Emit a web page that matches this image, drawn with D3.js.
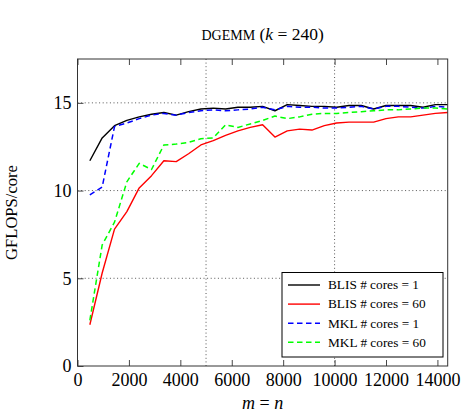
<!DOCTYPE html>
<html>
<head>
<meta charset="utf-8">
<script src="https://cdn.jsdelivr.net/npm/d3@7"></script>
<style>
  html, body { margin: 0; padding: 0; background: #fff; }
  svg { display: block; }
  text { font-family: "Liberation Serif", "DejaVu Serif", serif; fill: #000; }
</style>
</head>
<body>
<svg id="chart" width="467" height="420"></svg>
<script>
// ---- data ----
const sizes = [480, 960, 1440, 1920, 2400, 2880, 3360, 3840, 4320, 4800,
               5280, 5760, 6240, 6720, 7200, 7680, 8160, 8640, 9120, 9600,
               10080, 10560, 11040, 11520, 12000, 12480, 12960, 13440, 13920, 14400];
const blis1  = [11.7, 13.0, 13.7, 14.0, 14.2, 14.35, 14.45, 14.3, 14.5, 14.65,
                14.7, 14.65, 14.75, 14.75, 14.8, 14.55, 14.9, 14.85, 14.8, 14.8,
                14.75, 14.85, 14.85, 14.65, 14.85, 14.85, 14.85, 14.75, 14.9, 14.9];
const blis60 = [2.35, 5.3, 7.8, 8.8, 10.15, 10.85, 11.7, 11.65, 12.1, 12.6,
                12.85, 13.15, 13.4, 13.6, 13.75, 13.05, 13.4, 13.5, 13.45, 13.7,
                13.85, 13.9, 13.9, 13.9, 14.1, 14.2, 14.2, 14.3, 14.4, 14.45];
const mkl1   = [9.75, 10.2, 13.65, 13.85, 14.1, 14.3, 14.4, 14.3, 14.45, 14.55,
                14.6, 14.55, 14.6, 14.65, 14.75, 14.6, 14.8, 14.75, 14.75, 14.7,
                14.7, 14.75, 14.8, 14.65, 14.8, 14.8, 14.75, 14.7, 14.8, 14.75];
const mkl60  = [2.6, 6.9, 8.2, 10.5, 11.55, 11.2, 12.6, 12.65, 12.75, 12.95,
                13.0, 13.75, 13.6, 13.8, 14.0, 14.25, 14.1, 14.2, 14.35, 14.4,
                14.4, 14.45, 14.5, 14.55, 14.6, 14.6, 14.65, 14.7, 14.7, 14.65];
const xTicks = [0, 2000, 4000, 6000, 8000, 10000, 12000, 14000];
const yTicks = [0, 5, 10, 15];
const xGrid = [5000, 10000];
const yGrid = [5, 10, 15];
const seriesNames = ["BLIS # cores = 1", "BLIS # cores = 60", "MKL # cores = 1", "MKL # cores = 60"];
const seriesColors = ["#000000", "#ff0000", "#0000ff", "#00ff00"];
const seriesDashed = [false, false, true, true];
const seriesValues = [blis1, blis60, mkl1, mkl60];

// ---- layout ----
const L = 77.5, R = 447.7, T = 59, B = 366;
const svg = d3.select("#chart");
const x = d3.scaleLinear().domain([0, 14400]).range([L, R]);
const y = d3.scaleLinear().domain([0, 17.5]).range([B, T]);

// grid
const grid = svg.append("g").attr("stroke", "#444").attr("stroke-width", 0.9)
  .attr("stroke-dasharray", "1,2.6");
grid.selectAll("line.h").data(yGrid).join("line").attr("class", "h")
  .attr("x1", L).attr("x2", R).attr("y1", d => y(d)).attr("y2", d => y(d));
grid.selectAll("line.v").data(xGrid).join("line").attr("class", "v")
  .attr("y1", T).attr("y2", B).attr("x1", d => x(d)).attr("x2", d => x(d));

// axes
const fs = 18;
const xAxis = svg.append("g").attr("transform", `translate(0,${B})`)
  .call(d3.axisBottom(x).tickValues(xTicks).tickFormat(d3.format("d"))
    .tickSizeInner(-6).tickSizeOuter(0).tickPadding(7.5));
const xAxisTop = svg.append("g").attr("transform", `translate(0,${T})`)
  .call(d3.axisTop(x).tickValues(xTicks).tickFormat("")
    .tickSizeInner(-6).tickSizeOuter(0));
const yAxis = svg.append("g").attr("transform", `translate(${L},0)`)
  .call(d3.axisLeft(y).tickValues(yTicks).tickFormat(d3.format("d"))
    .tickSizeInner(-6).tickSizeOuter(0).tickPadding(6));
[xAxis, xAxisTop, yAxis].forEach(g => {
  g.select(".domain").remove();
  g.selectAll(".tick line").attr("stroke", "#333").attr("stroke-width", 0.9);
  g.selectAll("text").attr("font-family", "Liberation Serif").attr("font-size", fs).attr("fill", "#000");
});

// series lines
const line = d3.line().x((d, i) => x(sizes[i])).y(d => y(d));
seriesValues.forEach((vals, k) => {
  svg.append("path").datum(vals)
    .attr("fill", "none")
    .attr("stroke", seriesColors[k])
    .attr("stroke-width", seriesDashed[k] ? 1.5 : 1.4)
    .attr("stroke-dasharray", seriesDashed[k] ? "5.5,3.5" : null)
    .attr("stroke-linejoin", "round")
    .attr("d", line);
});

// frame
svg.append("rect").attr("x", L).attr("y", T).attr("width", R - L).attr("height", B - T)
  .attr("fill", "none").attr("stroke", "#333").attr("stroke-width", 1);

// title
const title = svg.append("text").attr("x", (L + R) / 2).attr("y", 39.5)
  .attr("text-anchor", "middle").attr("font-size", 17.5);
title.append("tspan").attr("font-size", 14).text("DGEMM");
title.append("tspan").text(" (");
title.append("tspan").attr("font-style", "italic").text("k");
title.append("tspan").text(" = 240)");

// axis labels
const xl = svg.append("text").attr("x", (L + R) / 2).attr("y", 409)
  .attr("text-anchor", "middle").attr("font-size", 18);
xl.append("tspan").attr("font-style", "italic").text("m");
xl.append("tspan").text(" = ");
xl.append("tspan").attr("font-style", "italic").text("n");

svg.append("text").attr("transform", "translate(16.5,212.5) rotate(-90)")
  .attr("text-anchor", "middle").attr("font-size", 16.6).text("GFLOPS/core");

// legend
const lg = svg.append("g");
lg.append("rect").attr("x", 282).attr("y", 272.5).attr("width", 161).attr("height", 84.5)
  .attr("fill", "#fff").attr("stroke", "#000").attr("stroke-width", 1);
const rowY = d3.scalePoint().domain(d3.range(seriesNames.length)).range([285, 342.3]);
seriesNames.forEach((name, k) => {
  const yy = rowY(k);
  lg.append("line").attr("x1", 288).attr("x2", 320).attr("y1", yy).attr("y2", yy)
    .attr("stroke", seriesColors[k]).attr("stroke-width", 1.4)
    .attr("stroke-dasharray", seriesDashed[k] ? "5.5,3.5" : null);
  lg.append("text").attr("x", 328).attr("y", yy).attr("dy", "0.33em")
    .attr("font-size", 13.3).text(name);
});
</script>
</body>
</html>
